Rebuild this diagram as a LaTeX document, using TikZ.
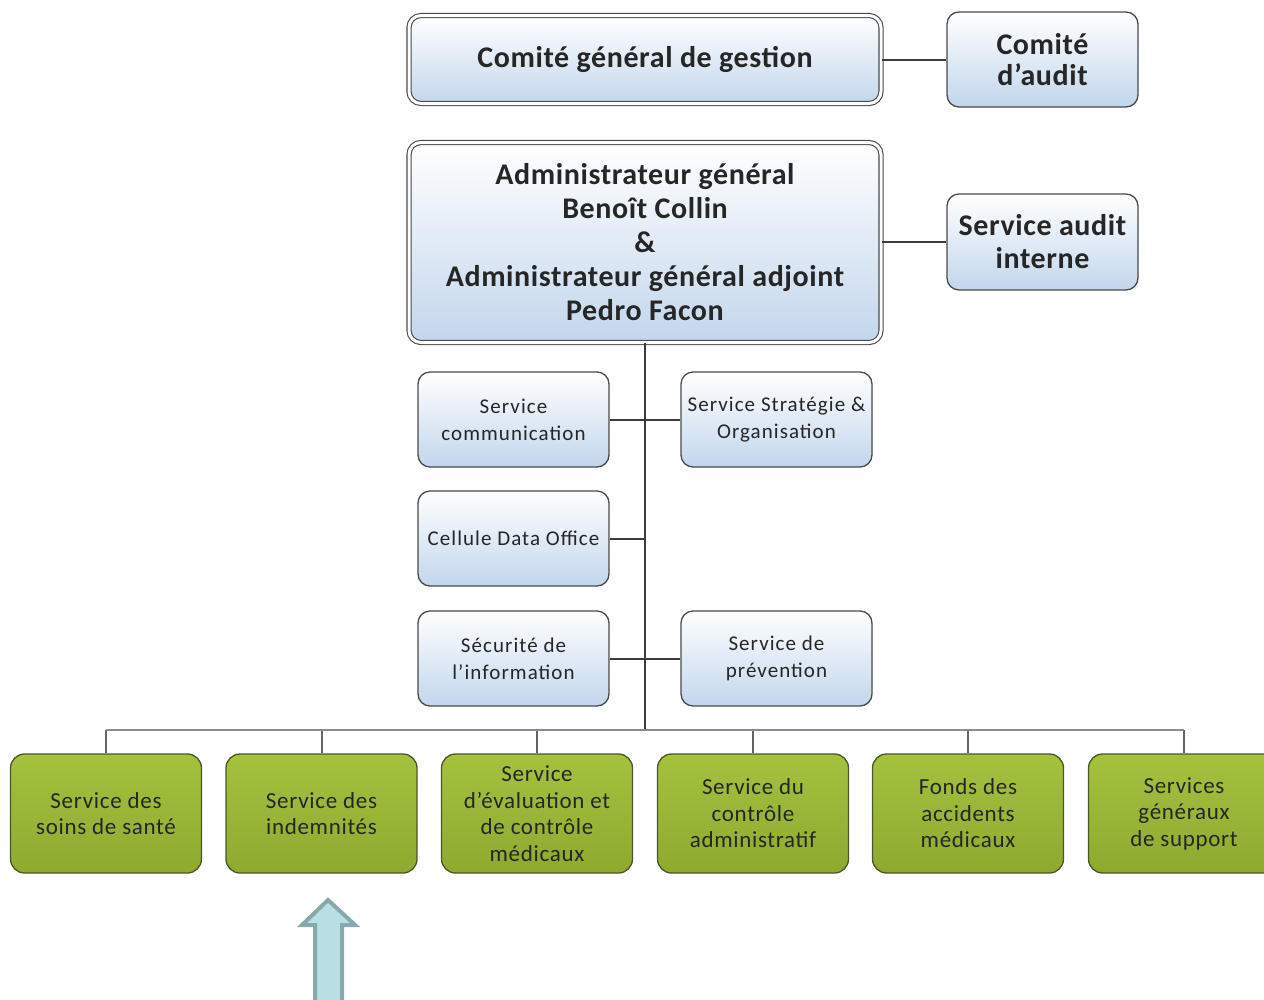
\documentclass[tikz,border=0pt]{standalone}
\usepackage{fontspec}
\setmainfont{Carlito}
\newfontfamily\bigfont[LetterSpace=2]{Carlito}
\newfontfamily\midfont[LetterSpace=5]{Carlito}
\newfontfamily\greenfont[LetterSpace=3]{Carlito}
\usetikzlibrary{shadings}
\definecolor{boxline}{HTML}{4A4A4A}
\definecolor{bluebot}{HTML}{C2D6EC}
\definecolor{greentop}{HTML}{A4C23E}
\definecolor{greenbot}{HTML}{8DAA2F}
\definecolor{greenline}{HTML}{4B5626}
\definecolor{conn}{HTML}{3C3C3C}
\definecolor{busgray}{HTML}{8C8C8C}
\definecolor{arrfill}{HTML}{B8DFE3}
\definecolor{arrline}{HTML}{88A9AB}
\tikzset{
  bluebox/.style={draw=boxline, line width=1.3pt, rounded corners=12pt,
    top color=white, bottom color=bluebot, align=center, inner sep=2pt,
    minimum width=191pt, minimum height=95pt, text=black!85},
  bigbox/.style={bluebox, double=white, double distance=3pt, line width=1.1pt,
    font=\bigfont\bfseries\fontsize{30}{34}\selectfont},
  topside/.style={bluebox, font=\bigfont\bfseries\fontsize{30}{31}\selectfont},
  midbox/.style={bluebox, font=\midfont\fontsize{21}{27}\selectfont},
  greenbox/.style={draw=greenline, line width=1.3pt, rounded corners=14pt,
    top color=greentop, bottom color=greenbot, align=center, inner sep=2pt,
    minimum width=191pt, minimum height=119pt, text=black!85,
    font=\greenfont\fontsize{23}{26.5}\selectfont},
  conline/.style={draw=conn, line width=2pt},
  busline/.style={draw=busgray, line width=2.2pt},
  dropline/.style={draw=conn!80, line width=2pt},
  uparrow/.style={draw=arrline, fill=arrfill, line width=4pt, line join=miter}
}
\begin{document}
\begin{tikzpicture}[x=1pt,y=-1pt]
\useasboundingbox (0,0) rectangle (1264,999);
\clip (0,0) rectangle (1264,999);
% top level
\node[bigbox, minimum width=472pt, minimum height=88pt] (cgg) at (645,59.5) {Comité général de gestion};
\node[topside] (caud) at (1042.5,59.5) {Comité\\d’audit};
\node[bigbox, minimum width=472pt, minimum height=200pt] (admin) at (645,242.5)
  {Administrateur général\\Benoît Collin\\\&\\Administrateur général adjoint\\Pedro Facon};
\node[topside, minimum height=96pt, font=\bigfont\bfseries\fontsize{30}{33}\selectfont] (sai) at (1042.5,242) {Service audit\\interne};
% staff boxes
\node[midbox] (comm) at (513.5,419.5) {Service\\communication};
\node[midbox] (strat) at (776.5,419.5) {Service Stratégie \&\\Organisation};
\node[midbox] (cdo) at (513.5,538.5) {Cellule Data Office};
\node[midbox] (secu) at (513.5,658.5) {Sécurité de\\l’information};
\node[midbox] (prev) at (776.5,658.5) {Service de\\prévention};
% operational services
\node[greenbox] (g1) at (106,813.5) {Service des\\soins de santé};
\node[greenbox] (g2) at (321.5,813.5) {Service des\\indemnités};
\node[greenbox] (g3) at (537,813.5) {Service\\d’évaluation et\\de contrôle\\médicaux};
\node[greenbox] (g4) at (753,813.5) {Service du\\contrôle\\administratif};
\node[greenbox] (g5) at (968,813.5) {Fonds des\\accidents\\médicaux};
\node[greenbox] (g6) at (1184,813.5) {Services\\généraux\\de support};
% connectors
\coordinate (bus) at (645,730);
\draw[conline] (cgg.east) -- (caud.west);
\draw[conline] (admin.east |- sai.west) -- (sai.west);
\draw[conline] (admin.south) -- (bus);
\draw[conline] (comm.east) -- (strat.west);
\draw[conline] (cdo.east) -- (cdo.east -| bus);
\draw[conline] (secu.east) -- (prev.west);
\foreach \g in {g1,g2,g3,g4,g5,g6}{
  \draw[dropline] (\g.north) -- (\g.north |- bus);
}
\draw[busline] (g1.north |- bus) -- (g6.north |- bus);
% pointer arrow
\draw[uparrow] (328,900) -- (355,925) -- (342,925) -- (342,1005) -- (315,1005) -- (315,925) -- (302,925) -- cycle;
\end{tikzpicture}
\end{document}
